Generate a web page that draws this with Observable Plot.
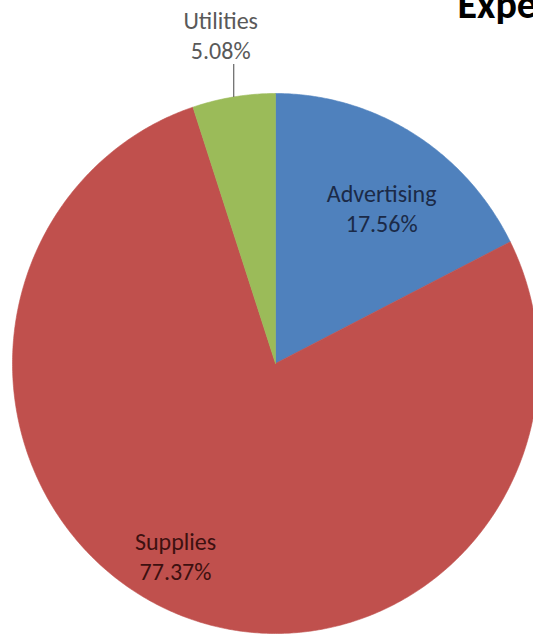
<!DOCTYPE html>
<html>
<head>
<meta charset="utf-8">
<script src="https://cdn.jsdelivr.net/npm/d3@7"></script>
<script src="https://cdn.jsdelivr.net/npm/@observablehq/plot@0.6"></script>
<style>
  html, body { margin: 0; padding: 0; overflow: hidden; background: #fff; }
  #chart svg { display: block; overflow: visible; }
</style>
</head>
<body>
<div id="chart"></div>
<script>
// ---- data ----
const title = "Expenses";
const categories = ["Advertising", "Supplies", "Utilities"];
const shares = [17.56, 77.37, 5.08];
const percentLabels = ["17.56%", "77.37%", "5.08%"];
const colors = ["#4F81BD", "#C0504D", "#9BBB59"];
const textColors = ["#1b2a47", "#3d1010", "#595959"];

// ---- layout (pixels) ----
const W = 533, H = 636;
const cx = 275, cy = 363, rx = 263, ry = 270;
const font = "Carlito, Lato, 'Open Sans', sans-serif";
const labelSize = 24;

const total = d3.sum(shares);
let acc = 0;
const slices = categories.map((c, i) => {
  const a0 = acc / total * 2 * Math.PI;
  acc += shares[i];
  const a1 = acc / total * 2 * Math.PI;
  const pts = [{u: 0, v: 0}];
  const n = Math.max(8, Math.ceil((a1 - a0) / (Math.PI / 360)));
  for (let k = 0; k <= n; k++) {
    const a = a0 + (a1 - a0) * k / n;
    pts.push({u: Math.sin(a), v: Math.cos(a)});
  }
  pts.push({u: 0, v: 0});
  return {category: c, color: colors[i], a0, a1, mid: (a0 + a1) / 2, pts};
});

// label placement: inside labels for first two, outside with leader for Utilities
const inside = [
  {i: 0, r: 0.705, dx: 9, dy: 6},
  {i: 1, r: 0.806, dx: -19, dy: -9}
];
const labelData = inside.map(({i, r, dx, dy}) => ({
  text: categories[i] + "\n" + percentLabels[i],
  u: r * Math.sin(slices[i].mid) + dx / rx,
  v: r * Math.cos(slices[i].mid) - dy / ry,
  color: textColors[i]
}));
const ut = slices[2];
const edge = {u: Math.sin(ut.mid), v: Math.cos(ut.mid)};
const leader = [{u1: edge.u, v1: edge.v, u2: edge.u, v2: edge.v + 33 / ry}];
const outsideLabel = [{
  text: categories[2] + "\n" + percentLabels[2],
  u: edge.u - 13 / rx,
  v: edge.v + 63 / ry,
  color: textColors[2]
}];

const chart = Plot.plot({
  width: W,
  height: H,
  margin: 0,
  style: {background: "#fff"},
  x: {domain: [-cx / rx, (W - cx) / rx], range: [0, W], axis: null},
  y: {domain: [-(H - cy) / ry, cy / ry], range: [H, 0], axis: null},
  marks: [
    ...slices.map(s => Plot.line(s.pts, {x: "u", y: "v", fill: s.color, stroke: s.color, strokeWidth: 0.6, curve: "linear"})),
    Plot.link(leader, {x1: "u1", y1: "v1", x2: "u2", y2: "v2", stroke: "#666", strokeWidth: 1.2}),
    Plot.text(labelData, {x: "u", y: "v", text: "text", fill: "color", fontSize: labelSize, lineHeight: 1.25, fontFamily: font, textAnchor: "middle"}),
    Plot.text(outsideLabel, {x: "u", y: "v", text: "text", fill: "color", fontSize: labelSize, lineHeight: 1.25, fontFamily: font, textAnchor: "middle"}),
    Plot.text([title], {frameAnchor: "top-left", dx: 457, dy: 17, lineAnchor: "bottom", text: d => d, fontSize: 40, fontWeight: "bold", fontFamily: font, fill: "#000", textAnchor: "start"})
  ]
});
document.getElementById("chart").appendChild(chart);
</script>
</body>
</html>
